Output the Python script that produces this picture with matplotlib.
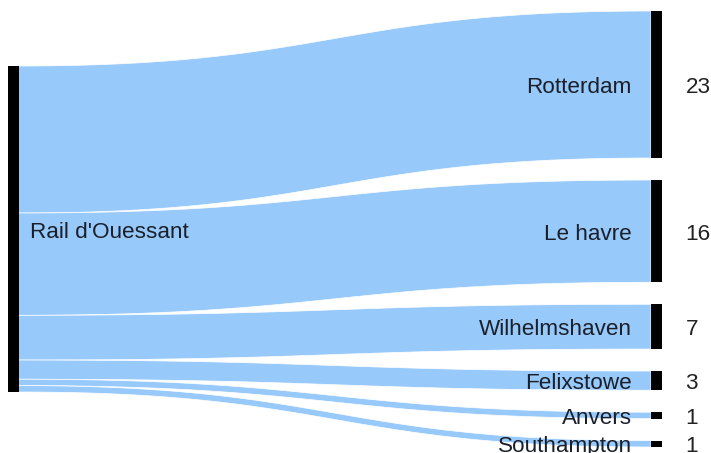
import numpy as np
import matplotlib
matplotlib.use("Agg")
import matplotlib.pyplot as plt
from matplotlib.patches import Polygon, Rectangle

plt.rcParams['font.family'] = ['Liberation Sans', 'DejaVu Sans']

source = "Rail d'Ouessant"
targets = ['Rotterdam', 'Le havre', 'Wilhelmshaven', 'Felixstowe', 'Anvers', 'Southampton']
values = [23, 16, 7, 3, 1, 1]

W, H = 711, 453
top, bottom, gap = 11, 447, 22
left_x, right_x, node_w = 8, 651, 10.5
link_color = '#97c9fa'
fs = 16.2
dy = 3  # text vertical nudge (pixels)

fig = plt.figure(figsize=(W / 100, H / 100), dpi=100)
ax = fig.add_axes([0, 0, 1, 1])
ax.set_xlim(0, W)
ax.set_ylim(H, 0)
ax.axis('off')

total = sum(values)
n = len(values)
k = (bottom - top - gap * (n - 1)) / total

# right nodes
right_pos = []
y = top
for v in values:
    right_pos.append((y, y + v * k))
    y += v * k + gap

# left node centered
center = (top + bottom) / 2
ly0 = center - total * k / 2
ly1 = center + total * k / 2

# links
t = np.linspace(0, 1, 100)
x0 = left_x + node_w
x1 = right_x
xm = (x0 + x1) / 2
bx = (1 - t) ** 3 * x0 + 3 * (1 - t) ** 2 * t * xm + 3 * (1 - t) * t ** 2 * xm + t ** 3 * x1

def curve(ya, yb):
    return (1 - t) ** 3 * ya + 3 * (1 - t) ** 2 * t * ya + 3 * (1 - t) * t ** 2 * yb + t ** 3 * yb

ys = ly0
for v, (r0, r1) in zip(values, right_pos):
    h = v * k
    top_c = curve(ys, r0)
    bot_c = curve(ys + h, r1)
    pts = np.vstack([np.column_stack([bx, top_c]), np.column_stack([bx[::-1], bot_c[::-1]])])
    ax.add_patch(Polygon(pts, closed=True, facecolor=link_color, edgecolor='white', linewidth=0.5, zorder=1))
    ys += h

# nodes
ax.add_patch(Rectangle((left_x, ly0), node_w, ly1 - ly0, facecolor='black', edgecolor='none', zorder=2))
for (r0, r1) in right_pos:
    ax.add_patch(Rectangle((right_x, r0), node_w, r1 - r0, facecolor='black', edgecolor='none', zorder=2))

# labels
ax.text(left_x + node_w + 12, center + dy, source, ha='left', va='center', fontsize=fs, color='#1a1f2a', zorder=3)
for name, v, (r0, r1) in zip(targets, values, right_pos):
    cy = (r0 + r1) / 2 + dy
    ax.text(right_x - 19, cy, name, ha='right', va='center', fontsize=fs, color='#1a1f2a', zorder=3)
    ax.text(right_x + node_w + 24, cy, str(v), ha='left', va='center', fontsize=fs, color='#222222', zorder=3)

fig.savefig('out.png', dpi=100)
